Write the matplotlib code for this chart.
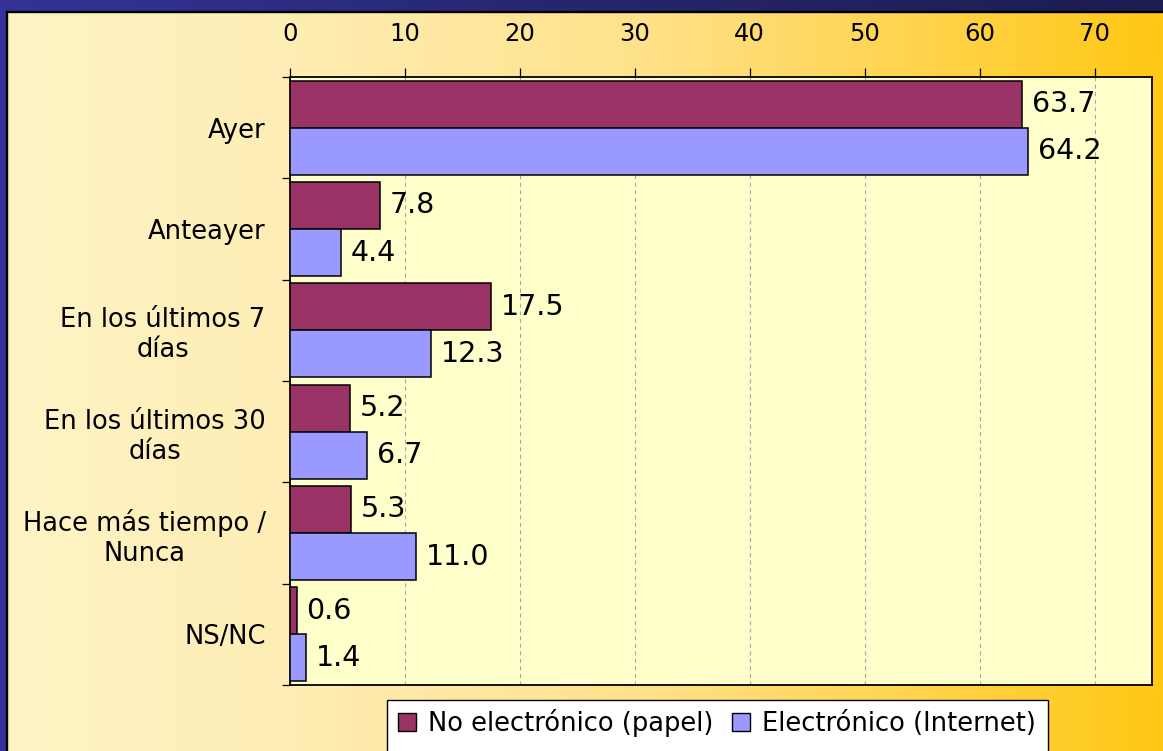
import numpy as np
import matplotlib
matplotlib.use("Agg")
import matplotlib.pyplot as plt
from matplotlib.colors import LinearSegmentedColormap
from matplotlib.lines import Line2D
from matplotlib.patches import Rectangle

plt.rcParams['font.family'] = ['DejaVu Sans']

categories = ["Ayer", "Anteayer", "En los últimos 7\ndías", "En los últimos 30\ndías",
              "Hace más tiempo /\nNunca", "NS/NC"]
papel = [63.7, 7.8, 17.5, 5.2, 5.3, 0.6]
internet = [64.2, 4.4, 12.3, 6.7, 11.0, 1.4]
series_names = ["No electrónico (papel)", "Electrónico (Internet)"]
xticks = [0, 10, 20, 30, 40, 50, 60, 70]

W, H = 1163, 751
fig = plt.figure(figsize=(W / 100, H / 100), dpi=100)

# background gradient panel
bg = fig.add_axes([0, 0, 1, 1], zorder=-10)
bg.set_axis_off()
cmap = LinearSegmentedColormap.from_list("bg", [
    (0.0, "#FFF4C6"), (0.25, "#FEEDB4"), (0.55, "#FFE28A"),
    (0.8, "#FFD34A"), (1.0, "#FFC814")])
grad = np.linspace(0, 1, 512)[None, :]
bg.imshow(grad, aspect="auto", cmap=cmap, extent=[0, 1, 0, 1])
bg.set_xlim(0, 1)
bg.set_ylim(0, 1)

# dark blue frame (left and top)
top_cmap = LinearSegmentedColormap.from_list("top", ["#333399", "#26266E", "#1C1C50"])
bg.imshow(grad, aspect="auto", cmap=top_cmap, extent=[0, 1, 1 - 11 / H, 1], zorder=2)
bg.add_patch(Rectangle((0, 0), 6 / W, 1, color="#333399", zorder=3))
bg.add_patch(Rectangle((6 / W, 0), 1.2 / W, 1 - 11 / H, color="black", zorder=3))
bg.add_patch(Rectangle((6 / W, 1 - 12 / H), 1 - 6 / W, 1.2 / H, color="black", zorder=3))

# legend box (runs off the bottom edge)
bg.add_patch(Rectangle((387 / W, -0.05), (1048 - 387) / W, 0.05 + 1 - 700 / H,
                       facecolor="white", edgecolor="black", linewidth=1.0, zorder=4))

ax = fig.add_axes([290 / W, 1 - 685 / H, (1152 - 290) / W, (685 - 77) / H])
ax.set_facecolor("#FFFFCC")

n = len(categories)
y = np.arange(n)
h = 0.464
ax.barh(y - h / 2, papel, height=h, color="#993366", edgecolor="black", linewidth=1.1,
        zorder=3, label=series_names[0])
ax.barh(y + h / 2, internet, height=h, color="#9999FF", edgecolor="black", linewidth=1.1,
        zorder=3, label=series_names[1])

for yi, v in zip(y - h / 2, papel):
    ax.annotate(f"{v:.1f}", (v, yi), xytext=(7, 0), textcoords="offset points",
                ha="left", va="center", fontsize=20.5, zorder=4)
for yi, v in zip(y + h / 2, internet):
    ax.annotate(f"{v:.1f}", (v, yi), xytext=(7, 0), textcoords="offset points",
                ha="left", va="center", fontsize=20.5, zorder=4)

ax.set_xlim(0, 75)
ax.set_ylim(n - 0.5, -0.5)

ax.xaxis.tick_top()
ax.set_xticks(xticks)
ax.set_xticklabels([str(t) for t in xticks])
ax.tick_params(axis="x", which="major", direction="out", length=6.5, width=0.9,
               pad=16, labelsize=17.5, top=True, bottom=False)
ax.grid(axis="x", color="#A6A6A6", linestyle=(0, (3.6, 3.2)), linewidth=0.8, zorder=1)

ax.set_yticks(np.arange(-0.5, n, 1.0))
ax.set_yticklabels([])
ax.set_yticks(y, minor=True)
ax.set_yticklabels(categories, minor=True, fontsize=18.5)
for lab in ax.get_yticklabels(minor=True):
    lab.set_multialignment("center")
ax.tick_params(axis="y", which="major", direction="out", length=6, width=0.9)
ax.tick_params(axis="y", which="minor", length=0, pad=17.5)

for sp in ax.spines.values():
    sp.set_color("black")
    sp.set_linewidth(1.3)

handles = [Line2D([], [], marker="s", linestyle="none", markersize=12.5,
                  markerfacecolor="#993366", markeredgecolor="black", markeredgewidth=1.0),
           Line2D([], [], marker="s", linestyle="none", markersize=12.5,
                  markerfacecolor="#9999FF", markeredgecolor="black", markeredgewidth=1.0)]
leg = fig.legend(handles, series_names, loc="upper left",
                 bbox_to_anchor=(389 / W, 1 - 700 / H), ncol=2, fontsize=18.5,
                 frameon=False, handlelength=0.7, handletextpad=0.45, columnspacing=0.75,
                 borderpad=0.35, borderaxespad=0)

fig.savefig("out.png", dpi=100)
